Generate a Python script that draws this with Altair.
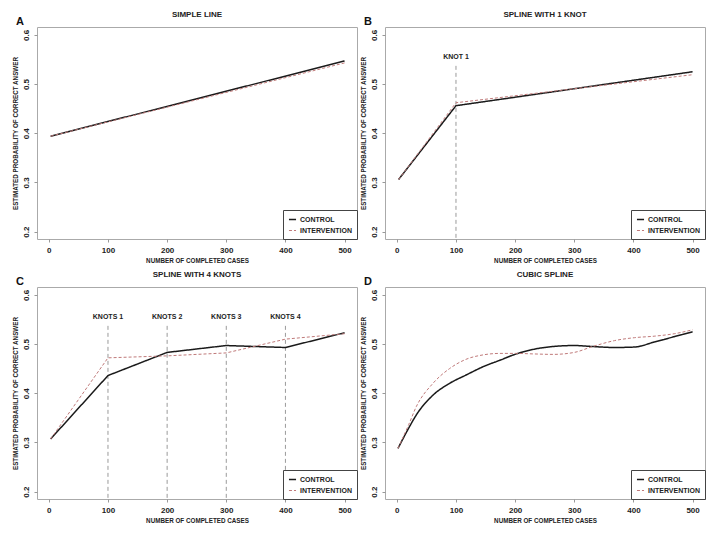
import altair as alt
import pandas as pd

FONT = "Liberation Sans Narrow, Liberation Sans, Arial Narrow, sans-serif"

GROUPS = ["CONTROL", "INTERVENTION"]
LINE_COLORS = ["#1a1a1a", "#c07a7a"]

# Panel A: simple line
A_x = [3, 500]
A_control = [0.394, 0.547]
A_interv = [0.394, 0.543]

# Panel B: spline with 1 knot
B_x = [3, 100, 500]
B_control = [0.306, 0.456, 0.525]
B_interv = [0.306, 0.462, 0.519]
B_knots = [100]
B_knot_labels = ["KNOT 1"]

# Panel C: spline with 4 knots
C_x = [3, 100, 200, 300, 400, 500]
C_control = [0.307, 0.436, 0.483, 0.497, 0.493, 0.523]
C_interv = [0.307, 0.472, 0.476, 0.482, 0.510, 0.521]
C_knots = [100, 200, 300, 400]
C_knot_labels = ["KNOTS 1", "KNOTS 2", "KNOTS 3", "KNOTS 4"]

# Panel D: cubic spline
D_x = [2, 20, 33, 61, 89, 117, 146, 174, 202, 230, 264, 300, 331, 368, 402, 435, 469, 500]
D_control = [0.288, 0.329, 0.356, 0.396, 0.420, 0.437, 0.454, 0.467, 0.480, 0.489, 0.495,
             0.497, 0.495, 0.493, 0.494, 0.504, 0.515, 0.525]
D_interv = [0.288, 0.336, 0.373, 0.420, 0.450, 0.469, 0.478, 0.481, 0.481, 0.480, 0.479,
            0.483, 0.495, 0.507, 0.513, 0.516, 0.521, 0.529]

X_TICKS = [0, 100, 200, 300, 400, 500]
Y_TICKS = [0.2, 0.3, 0.4, 0.5, 0.6]
X_DOMAIN = [-20, 521]
Y_DOMAIN = [0.185, 0.616]
KNOT_TOP = 0.537
KNOT_LABEL_Y = 0.556

W, H = 320, 212


def make_df(cx, cy, ix, iy):
    rows = [{"x": a, "y": b, "group": "CONTROL"} for a, b in zip(cx, cy)]
    rows += [{"x": a, "y": b, "group": "INTERVENTION"} for a, b in zip(ix, iy)]
    return pd.DataFrame(rows)


def panel(df, title, letter, knots=None, knot_labels=None, interp="linear"):
    xenc = alt.X("x:Q", scale=alt.Scale(domain=X_DOMAIN, nice=False, zero=False),
                 axis=alt.Axis(values=X_TICKS, title="NUMBER OF COMPLETED CASES", format="d"))
    yenc = alt.Y("y:Q", scale=alt.Scale(domain=Y_DOMAIN, nice=False, zero=False),
                 axis=alt.Axis(values=Y_TICKS, title="ESTIMATED PROBABILITY OF CORRECT ANSWER",
                               format=".1f", labelAngle=270, labelAlign="center",
                               labelBaseline="bottom"))
    leg = alt.Legend(title=None, orient="bottom-right", offset=0, symbolType="stroke",
                     strokeColor="#444", fillColor="white", padding=5, symbolSize=50,
                     symbolStrokeWidth=1, labelFont=FONT, labelFontSize=7,
                     labelFontWeight="bold", labelColor="#222", rowPadding=3, labelOffset=3)
    lines = alt.Chart(df).mark_line(interpolate=interp).encode(
        x=xenc, y=yenc,
        color=alt.Color("group:N", scale=alt.Scale(domain=GROUPS, range=LINE_COLORS), legend=leg),
        strokeDash=alt.StrokeDash("group:N", scale=alt.Scale(domain=GROUPS, range=[[1, 0], [3, 2]]),
                                  legend=leg),
        strokeWidth=alt.StrokeWidth("group:N", scale=alt.Scale(domain=GROUPS, range=[1.5, 1.0]),
                                    legend=None),
    )
    layers = []
    if knots:
        kdf = pd.DataFrame({"x": knots, "top": [KNOT_TOP] * len(knots),
                            "bot": [Y_DOMAIN[0]] * len(knots),
                            "ly": [KNOT_LABEL_Y] * len(knots), "label": knot_labels})
        rules = alt.Chart(kdf).mark_rule(color="#9a9a9a", strokeDash=[4, 3], strokeWidth=1).encode(
            x="x:Q", y="top:Q", y2="bot:Q")
        ktext = alt.Chart(kdf).mark_text(font=FONT, fontSize=7, fontWeight="bold",
                                         color="#222").encode(x="x:Q", y="ly:Q", text="label:N")
        layers += [rules, ktext]
    layers.append(lines)
    let = alt.Chart(pd.DataFrame({"t": [letter]})).mark_text(
        font=FONT, fontSize=11, fontWeight="bold", color="#111", align="center",
        baseline="middle").encode(text="t:N", x=alt.value(-17), y=alt.value(-5))
    ttl = alt.Chart(pd.DataFrame({"t": [title]})).mark_text(
        font=FONT, fontSize=8, fontWeight="bold", color="#222", align="center",
        baseline="middle").encode(text="t:N", x=alt.value(W / 2), y=alt.value(-12))
    layers += [let, ttl]
    return alt.layer(*layers).properties(width=W, height=H)


pA = panel(make_df(A_x, A_control, A_x, A_interv), "SIMPLE LINE", "A")
pB = panel(make_df(B_x, B_control, B_x, B_interv), "SPLINE WITH 1 KNOT", "B", B_knots, B_knot_labels)
pC = panel(make_df(C_x, C_control, C_x, C_interv), "SPLINE WITH 4 KNOTS", "C", C_knots, C_knot_labels)
pD = panel(make_df(D_x, D_control, D_x, D_interv), "CUBIC SPLINE", "D", interp="monotone")

IND = dict(color="independent", strokeDash="independent", strokeWidth="independent")


def row(a, b):
    return alt.hconcat(a, b, spacing=2).resolve_scale(**IND).resolve_legend(
        color="independent", strokeDash="independent")


chart = alt.vconcat(
    row(pA, pB),
    row(pC, pD),
    spacing=6,
).resolve_scale(**IND).resolve_legend(
    color="independent", strokeDash="independent"
).properties(
    padding={"left": 4, "top": 2, "right": 0, "bottom": 0}
).configure_view(
    stroke="#aaaaaa", strokeWidth=1
).configure_axis(
    domain=False, grid=False, tickColor="#999", tickSize=3,
    labelFont=FONT, labelFontSize=8, labelFontWeight="bold", labelColor="#222",
    titleFont=FONT, titleFontSize=6.3, titleFontWeight="bold", titleColor="#222",
).configure_axisX(
    labelPadding=4, titlePadding=3
).configure_axisY(
    labelPadding=3.5, titlePadding=4
).configure_legend(
    labelLimit=200
)

chart.save("out.html", embed_options={"renderer": "svg", "actions": False})
